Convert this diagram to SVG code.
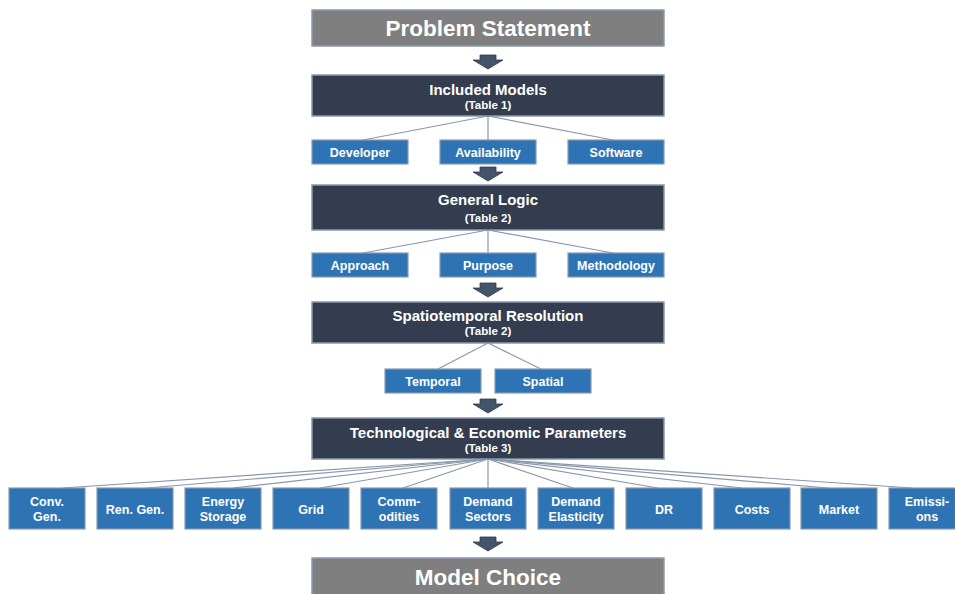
<svg xmlns="http://www.w3.org/2000/svg" width="955" height="594" viewBox="0 0 955 594">
<defs>
<style>
.gray{fill:#7f7f7f;stroke:#8a9ab0;stroke-width:1.5}
.dark{fill:#333d4f;stroke:#8a98ac;stroke-width:1.5}
.blue{fill:#2e74b5;stroke:#8a9ab0;stroke-width:1.2}
.t{font-family:"Liberation Sans",Arial,sans-serif;font-weight:bold;fill:#fff;text-anchor:middle}
.big{font-size:22.5px}
.h{font-size:15px}
.s{font-size:11.5px}
.b{font-size:12.5px}
.ln{stroke:#8a98ac;stroke-width:1.2;fill:none}
.arr{fill:#44546a;stroke:#2f3a4a;stroke-width:0.8}
</style>
<path id="a" d="M-8,0 H8 V5 H15 L0,14 L-15,5 H-8 Z"/>
</defs>
<g id="connectors">
<line class="ln" x1="488" y1="116" x2="363" y2="140"/>
<line class="ln" x1="488" y1="116" x2="488" y2="140"/>
<line class="ln" x1="488" y1="116" x2="613" y2="140"/>
<line class="ln" x1="488" y1="230" x2="363" y2="253"/>
<line class="ln" x1="488" y1="230" x2="488" y2="253"/>
<line class="ln" x1="488" y1="230" x2="613" y2="253"/>
<line class="ln" x1="488" y1="343" x2="438" y2="369"/>
<line class="ln" x1="488" y1="343" x2="541" y2="369"/>
<line class="ln" x1="488" y1="459" x2="63" y2="488"/>
<line class="ln" x1="488" y1="459" x2="147" y2="488"/>
<line class="ln" x1="488" y1="459" x2="233" y2="488"/>
<line class="ln" x1="488" y1="459" x2="320" y2="488"/>
<line class="ln" x1="488" y1="459" x2="403" y2="488"/>
<line class="ln" x1="488" y1="459" x2="488" y2="488"/>
<line class="ln" x1="488" y1="459" x2="573" y2="488"/>
<line class="ln" x1="488" y1="459" x2="658" y2="488"/>
<line class="ln" x1="488" y1="459" x2="742" y2="488"/>
<line class="ln" x1="488" y1="459" x2="828" y2="488"/>
<line class="ln" x1="488" y1="459" x2="912" y2="488"/>
<use href="#a" class="arr" x="488" y="55"/>
<use href="#a" class="arr" x="488" y="167"/>
<use href="#a" class="arr" x="488" y="283"/>
<use href="#a" class="arr" x="488" y="399"/>
<use href="#a" class="arr" x="488" y="537"/>
</g>
<g id="problem"><rect class="gray" x="312" y="10" width="352" height="36"/><text class="t big" x="488" y="36">Problem Statement</text></g>
<g id="included"><rect class="dark" x="312" y="75" width="352" height="41"/><text class="t h" x="488" y="95">Included Models</text><text class="t s" x="488" y="109">(Table 1)</text></g>
<g id="developer"><rect class="blue" x="312" y="140" width="96" height="24"/><text class="t b" x="360" y="157">Developer</text></g>
<g id="availability"><rect class="blue" x="440" y="140" width="96" height="24"/><text class="t b" x="488" y="157">Availability</text></g>
<g id="software"><rect class="blue" x="568" y="140" width="96" height="24"/><text class="t b" x="616" y="157">Software</text></g>
<g id="general"><rect class="dark" x="312" y="185" width="352" height="45"/><text class="t h" x="488" y="205">General Logic</text><text class="t s" x="488" y="222">(Table 2)</text></g>
<g id="approach"><rect class="blue" x="312" y="253" width="96" height="24"/><text class="t b" x="360" y="270">Approach</text></g>
<g id="purpose"><rect class="blue" x="440" y="253" width="96" height="24"/><text class="t b" x="488" y="270">Purpose</text></g>
<g id="methodology"><rect class="blue" x="568" y="253" width="96" height="24"/><text class="t b" x="616" y="270">Methodology</text></g>
<g id="spatio"><rect class="dark" x="312" y="302" width="352" height="41"/><text class="t h" x="488" y="321">Spatiotemporal Resolution</text><text class="t s" x="488" y="335">(Table 2)</text></g>
<g id="temporal"><rect class="blue" x="385" y="369" width="96" height="24"/><text class="t b" x="433" y="386">Temporal</text></g>
<g id="spatial"><rect class="blue" x="495" y="369" width="96" height="24"/><text class="t b" x="543" y="386">Spatial</text></g>
<g id="techecon"><rect class="dark" x="312" y="418" width="352" height="41"/><text class="t h" x="488" y="438">Technological &amp; Economic Parameters</text><text class="t s" x="488" y="452">(Table 3)</text></g>
<g id="conv"><rect class="blue" x="9" y="488" width="76" height="41"/><text class="t b" x="47" y="506">Conv.</text><text class="t b" x="47" y="521">Gen.</text></g>
<g id="ren"><rect class="blue" x="97" y="488" width="76" height="41"/><text class="t b" x="135" y="514">Ren. Gen.</text></g>
<g id="storage"><rect class="blue" x="185" y="488" width="76" height="41"/><text class="t b" x="223" y="506">Energy</text><text class="t b" x="223" y="521">Storage</text></g>
<g id="grid"><rect class="blue" x="273" y="488" width="76" height="41"/><text class="t b" x="311" y="514">Grid</text></g>
<g id="commodities"><rect class="blue" x="361" y="488" width="76" height="41"/><text class="t b" x="399" y="506">Comm-</text><text class="t b" x="399" y="521">odities</text></g>
<g id="sectors"><rect class="blue" x="450" y="488" width="76" height="41"/><text class="t b" x="488" y="506">Demand</text><text class="t b" x="488" y="521">Sectors</text></g>
<g id="elasticity"><rect class="blue" x="538" y="488" width="76" height="41"/><text class="t b" x="576" y="506">Demand</text><text class="t b" x="576" y="521">Elasticity</text></g>
<g id="dr"><rect class="blue" x="626" y="488" width="76" height="41"/><text class="t b" x="664" y="514">DR</text></g>
<g id="costs"><rect class="blue" x="714" y="488" width="76" height="41"/><text class="t b" x="752" y="514">Costs</text></g>
<g id="market"><rect class="blue" x="801" y="488" width="76" height="41"/><text class="t b" x="839" y="514">Market</text></g>
<g id="emissions"><rect class="blue" x="889" y="488" width="76" height="41"/><text class="t b" x="927" y="506">Emissi-</text><text class="t b" x="927" y="521">ons</text></g>
<g id="choice"><rect class="gray" x="312" y="558" width="352" height="40"/><text class="t big" x="488" y="585">Model Choice</text></g>
</svg>
